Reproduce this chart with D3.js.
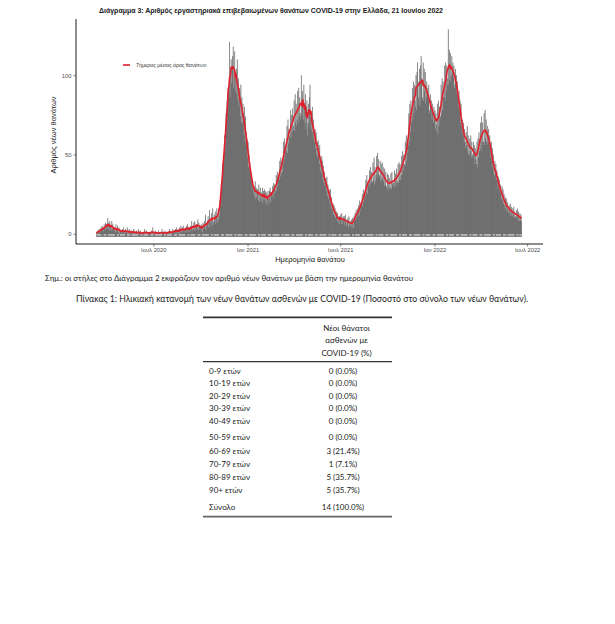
<!DOCTYPE html>
<html><head><meta charset="utf-8">
<script src="https://cdn.jsdelivr.net/npm/d3@7"></script>
<style>body{margin:0;background:#fff}svg{display:block}</style>
</head><body>
<svg id="c" width="615" height="624"></svg>
<script>
// ---------------- DATA ----------------
const titleText = "Διάγραμμα 3: Αριθμός εργαστηριακά επιβεβαιωμένων θανάτων COVID-19 στην Ελλάδα, 21 Ιουνίου 2022";
const startDate = "2020-03-12";
// daily deaths by date of death, 7 values per week (from startDate)
const dailyDeaths = [
1,0,2,1,0,3,1, 2,1,4,2,5,3,1, 3,6,4,2,7,3,5, 6,10,3,7,2,8,4,
5,2,8,3,6,4,2, 4,2,1,6,3,1,5, 3,1,4,0,3,2,1, 2,0,3,1,4,1,0,
1,3,0,2,4,0,1, 0,2,3,0,1,0,2, 1,0,2,3,0,0,1, 0,2,0,1,0,3,0,
1,0,2,0,0,1,0, 0,1,0,3,0,0,1, 2,0,0,1,0,1,0, 0,1,2,0,0,4,0,
1,0,0,2,0,1,0, 0,0,2,0,1,0,0, 1,0,3,0,0,1,0, 0,2,0,1,0,0,1,
1,0,2,3,0,1,0, 0,3,0,1,2,2,0, 3,1,4,0,1,3,0, 2,4,0,3,5,1,2,
4,1,5,2,3,1,4, 1,5,3,6,1,4,2, 4,1,5,3,8,2,3, 3,7,2,8,4,2,6,
6,3,9,2,7,5,4, 5,2,6,4,1,7,3, 4,8,3,12,2,6,5, 6,11,4,9,15,4,8,
7,13,5,16,8,6,12, 8,14,6,11,16,7,13, 9,16,11,21,26,18,28, 30,44,41,50,47,62,52,
58,76,68,84,80,92,88, 90,121,86,104,110,95,106, 112,118,92,98,115,90,102, 104,88,110,84,98,80,92,
90,74,94,70,86,70,82, 76,62,80,58,74,56,64, 60,48,58,42,50,44,40, 42,36,38,28,34,30,26,
30,24,33,22,29,23,28, 28,21,31,20,26,29,22, 26,20,29,19,27,22,28, 21,27,19,26,18,24,27,
22,19,27,29,20,26,25, 24,30,22,32,25,31,26, 28,37,27,39,30,36,35, 34,46,36,48,38,46,39,
44,58,45,60,47,55,55, 52,68,51,72,57,66,61, 62,78,60,75,64,79,65, 68,84,65,88,70,82,68,
72,90,70,92,74,86,72, 76,100,74,90,80,72,94, 82,70,88,66,80,84,62, 70,82,68,86,94,74,66,
76,64,80,60,72,64,58, 66,54,64,50,58,48,59, 54,44,56,40,48,38,49, 46,34,43,32,39,30,35,
35,27,36,24,31,22,28, 27,19,28,16,23,15,19, 19,12,18,11,16,10,12, 14,8,13,7,11,6,11,
10,12,6,13,9,6,11, 9,11,5,12,7,5,9, 8,10,4,11,6,5,8, 5,9,3,10,7,4,11,
8,13,9,15,10,11,16, 12,18,11,21,14,17,20, 18,25,17,28,20,26,22, 24,34,26,37,25,33,31,
31,40,29,42,32,39,32, 33,45,34,48,31,42,33, 37,49,35,51,38,47,37, 36,46,33,44,34,45,35,
33,42,30,41,31,39,29, 30,38,27,37,29,35,28, 29,38,28,39,31,33,32, 30,40,29,38,32,41,30,
33,44,32,45,34,44,34, 37,49,37,52,40,50,43, 44,58,43,62,46,60,51, 56,76,58,82,64,84,70,
74,92,72,96,76,94,84, 80,100,78,102,108,96,86, 82,104,80,106,112,98,84, 86,108,84,104,90,102,82,
86,96,88,92,84,94,76, 78,88,80,84,72,82,76, 70,80,72,78,66,76,69, 64,82,62,84,68,80,72,
74,94,76,98,78,96,86, 86,106,84,108,90,106,94, 98,129,94,116,97,114,96, 100,112,104,108,98,106,92,
94,104,96,100,88,96,84, 80,90,78,84,70,82,68, 64,72,62,70,58,66,58, 54,64,56,68,52,62,50,
50,60,52,62,48,58,50, 48,58,50,56,44,54,47, 44,58,42,60,48,64,52, 54,70,52,74,56,70,58,
58,76,56,78,60,72,58, 56,68,58,66,56,62,54, 48,58,46,54,42,50,38, 36,46,38,44,34,40,35,
28,36,30,34,26,31,25, 22,30,21,28,19,25,18, 16,23,15,22,14,20,16, 13,18,14,19,11,17,13,
11,16,12,17,10,14,11, 10,15,11,16,8,14,10, 8,13,9,12,8
];
const xDomain = ["2020-02-01", "2022-08-01"];
const xTickDates = ["2020-07-01","2021-01-01","2021-07-01","2022-01-01","2022-07-01"];
const xTickLabels = ["Ιουλ 2020","Ιαν 2021","Ιουλ 2021","Ιαν 2022","Ιουλ 2022"];
const yTicks = [0, 50, 100];
const yDomain = [-6.45, 135.45];
const legendLabel = "7ήμερος μέσος όρος θανάτων";
const yTitle = "Αριθμός νέων θανάτων";
const xTitle = "Ημερομηνία θανάτου";
const noteText = "Σημ.: οι στήλες στο Διάγραμμα 2 εκφράζουν τον αριθμό νέων θανάτων με βάση την ημερομηνία θανάτου";
const tableTitle = "Πίνακας 1: Ηλικιακή κατανομή των νέων θανάτων ασθενών με COVID-19 (Ποσοστό στο σύνολο των νέων θανάτων).";
const tableHeader = ["Νέοι θάνατοι", "ασθενών με", "COVID-19 (%)"];
const ageGroups = ["0-9 ετών","10-19 ετών","20-29 ετών","30-39 ετών","40-49 ετών","50-59 ετών","60-69 ετών","70-79 ετών","80-89 ετών","90+ ετών"];
const ageDeaths = [0,0,0,0,0,0,3,1,5,5];
const agePct = ["0.0%","0.0%","0.0%","0.0%","0.0%","0.0%","21.4%","7.1%","35.7%","35.7%"];
const totalLabel = "Σύνολο";
const totalDeaths = 14;
const totalPct = "100.0%";

// ---------------- CHART ----------------
const svg = d3.select("#c");
const parse = d3.utcParse("%Y-%m-%d");
const start = parse(startDate);
const rows = dailyDeaths.map((v, i) => ({date: d3.utcDay.offset(start, i), v}));
// centered 7-day mean of the daily series
const avg = rows.map((d, i) => {
  const w = dailyDeaths.slice(Math.max(0, i - 3), Math.min(dailyDeaths.length, i + 4));
  return {date: d.date, v: d3.mean(w)};
});

const x = d3.scaleUtc().domain(xDomain.map(parse)).range([76, 543]);
const y = d3.scaleLinear().domain(yDomain).range([244, 19]);
const dayW = x(d3.utcDay.offset(start, 1)) - x(start);

const chartFont = "'Liberation Sans', Arial, sans-serif";
const textFont = "Lato, 'Open Sans', sans-serif";

svg.append("text").attr("x", 99).attr("y", 12.5)
  .attr("font-family", chartFont).attr("font-weight", "bold").attr("font-size", 6.8)
  .attr("fill", "#1a1a1a").attr("textLength", 344).attr("lengthAdjust", "spacingAndGlyphs")
  .text(titleText);

const g = svg.append("g");
g.selectAll("rect.bar").data(rows).join("rect").attr("class", "bar")
  .attr("x", d => x(d.date) - dayW * 0.6)
  .attr("width", dayW * 1.2)
  .attr("y", d => y(d.v))
  .attr("height", d => y(0) + 3 - y(d.v))
  .attr("fill", "#7b7b7b");
g.selectAll("line.tip").data(rows).join("line").attr("class", "tip")
  .attr("x1", d => x(d.date)).attr("x2", d => x(d.date))
  .attr("y1", d => y(d.v)).attr("y2", y(0) + 3)
  .attr("stroke", "#555").attr("stroke-width", 0.35);
g.append("line").attr("x1", x(start)).attr("x2", x(rows[rows.length-1].date))
  .attr("y1", y(0) + 1.2).attr("y2", y(0) + 1.2)
  .attr("stroke", "#fff").attr("stroke-width", 0.9).attr("stroke-dasharray", "5,2,3,1.5,7,2,2,1");

g.append("path").datum(avg)
  .attr("d", d3.line().x(d => x(d.date)).y(d => y(d.v)))
  .attr("fill", "none").attr("stroke", "#e0202b").attr("stroke-width", 1.6)
  .attr("stroke-linejoin", "round");

// axes
const yAxis = svg.append("g").attr("transform", "translate(76,0)")
  .call(d3.axisLeft(y).tickValues(yTicks).tickSize(2.5).tickPadding(2));
yAxis.select(".domain").attr("stroke", "#000").attr("stroke-width", 0.9).attr("d", `M0,${y.range()[1]}V${y.range()[0]}`);
const xAxis = svg.append("g").attr("transform", "translate(0,244)")
  .call(d3.axisBottom(x).tickValues(xTickDates.map(parse)).tickSize(2.5).tickPadding(1.5)
    .tickFormat((d, i) => xTickLabels[i]));
xAxis.select(".domain").attr("stroke", "#000").attr("stroke-width", 0.9).attr("d", `M${x.range()[0]},0H${x.range()[1]}`);
[yAxis, xAxis].forEach(a => {
  a.selectAll(".tick line").attr("stroke", "#333").attr("stroke-width", 0.6);
  a.selectAll(".tick text").attr("fill", "#4d4d4d").attr("font-size", 5.8).attr("font-family", chartFont);
});

svg.append("text").attr("transform", "translate(56,135) rotate(-90)")
  .attr("text-anchor", "middle").attr("font-family", chartFont).attr("font-size", 7.5)
  .attr("fill", "#1a1a1a").text(yTitle);
svg.append("text").attr("x", 310).attr("y", 262)
  .attr("text-anchor", "middle").attr("font-family", chartFont).attr("font-size", 7.5)
  .attr("fill", "#1a1a1a").text(xTitle);

// legend
svg.append("line").attr("x1", 123).attr("x2", 130).attr("y1", 65).attr("y2", 65)
  .attr("stroke", "#e0202b").attr("stroke-width", 1.6);
svg.append("text").attr("x", 136).attr("y", 67)
  .attr("font-family", chartFont).attr("font-size", 5.3).attr("fill", "#333")
  .text(legendLabel);

// note
svg.append("text").attr("x", 45).attr("y", 280.5)
  .attr("font-family", textFont).attr("font-size", 7.8).attr("fill", "#222")
  .attr("textLength", 368).attr("lengthAdjust", "spacingAndGlyphs").text(noteText);

// table title
svg.append("text").attr("x", 76).attr("y", 302)
  .attr("font-family", textFont).attr("font-size", 9.2).attr("fill", "#222")
  .attr("textLength", 452).attr("lengthAdjust", "spacingAndGlyphs").text(tableTitle);

// table
const tl = 203, tr = 392, valX = 343;
svg.append("line").attr("x1", tl).attr("x2", tr).attr("y1", 317.3).attr("y2", 317.3)
  .attr("stroke", "#333").attr("stroke-width", 1.8);
svg.append("line").attr("x1", tl).attr("x2", tr).attr("y1", 361.7).attr("y2", 361.7)
  .attr("stroke", "#333").attr("stroke-width", 1.3);
svg.append("line").attr("x1", tl).attr("x2", tr).attr("y1", 516.7).attr("y2", 516.7)
  .attr("stroke", "#666").attr("stroke-width", 1.8);

const tfont = 8;
const hdrY = [328, 340.5, 353];
svg.selectAll("text.hdr").data(tableHeader).join("text").attr("class", "hdr")
  .attr("x", 346.5).attr("y", (d, i) => hdrY[i]).attr("dy", "0.35em")
  .attr("text-anchor", "middle").attr("font-family", textFont).attr("font-size", tfont)
  .attr("fill", "#222").text(d => d);

const rowY = [371, 383.5, 396, 408.5, 421, 437.5, 451, 464, 477, 490.5];
const trs = ageGroups.map((a, i) => ({label: a, value: `${ageDeaths[i]} (${agePct[i]})`, yy: rowY[i]}));
trs.push({label: totalLabel, value: `${totalDeaths} (${totalPct})`, yy: 507});
svg.selectAll("text.lab").data(trs).join("text").attr("class", "lab")
  .attr("x", 209).attr("y", d => d.yy).attr("dy", "0.35em")
  .attr("font-family", textFont).attr("font-size", tfont).attr("fill", "#222").text(d => d.label);
svg.selectAll("text.val").data(trs).join("text").attr("class", "val")
  .attr("x", valX).attr("y", d => d.yy).attr("dy", "0.35em").attr("text-anchor", "middle")
  .attr("font-family", textFont).attr("font-size", tfont).attr("fill", "#222").text(d => d.value);
</script>
</body></html>
